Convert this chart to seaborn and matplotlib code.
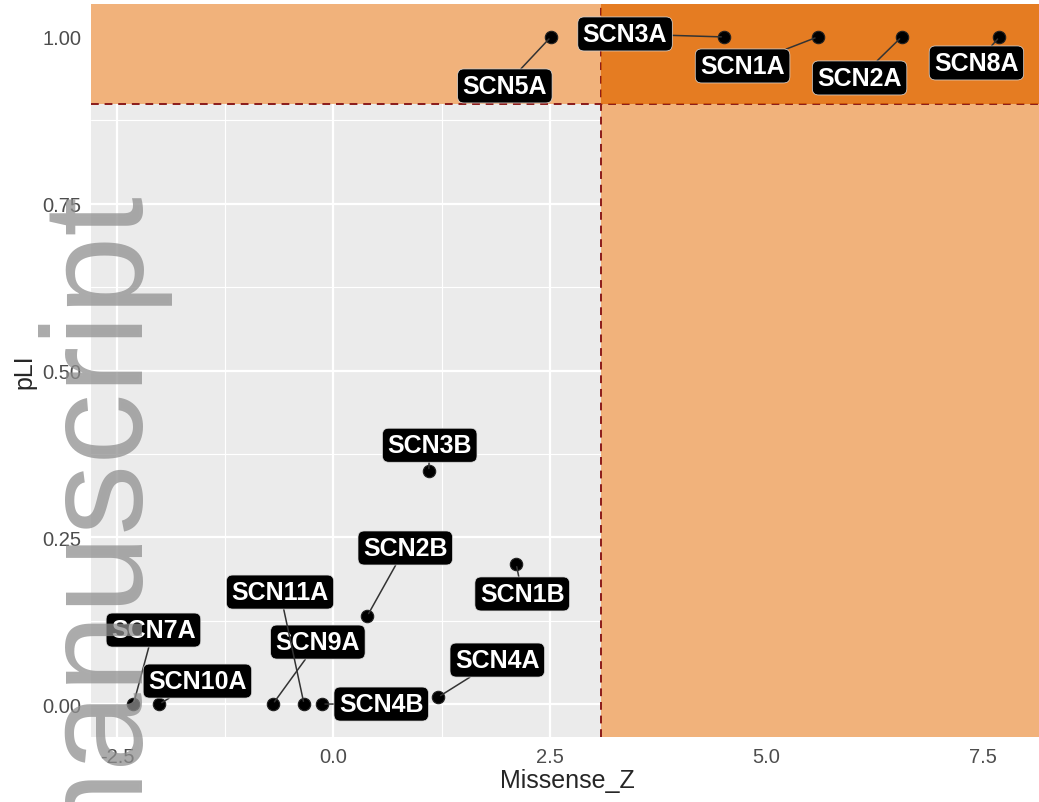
import pandas as pd
import matplotlib.pyplot as plt
from matplotlib.patches import Rectangle
import seaborn as sns

genes = ["SCN5A", "SCN3A", "SCN1A", "SCN2A", "SCN8A", "SCN3B", "SCN1B",
         "SCN2B", "SCN4A", "SCN7A", "SCN10A", "SCN9A", "SCN11A", "SCN4B"]
missense_z = [2.51, 4.51, 5.59, 6.56, 7.69, 1.10, 2.11,
              0.39, 1.21, -2.31, -2.01, -0.70, -0.34, -0.13]
pli = [1.0, 1.0, 1.0, 1.0, 1.0, 0.349, 0.21,
       0.132, 0.0105, 0.0, 0.0, 0.0, 0.0, 0.0]

# where each label box sits, relative to its point (pixels)
label_dx = [-46, -99, -75, -42, -23, 1, 6, 38, 59, 20, 38, 45, -24, 59]
label_dy = [-49, 3, -29, -41, -26, 26, -30, 68, 37, 74, 23, 62, 112, 0]

z_cut = 3.09
pli_cut = 0.9
x_ticks = [-2.5, 0.0, 2.5, 5.0, 7.5]
y_ticks = [0.00, 0.25, 0.50, 0.75, 1.00]
x_minor = [-1.25, 1.25, 3.75, 6.25]
y_minor = [0.125, 0.375, 0.625, 0.875]

df = pd.DataFrame({"gene": genes, "Missense_Z": missense_z, "pLI": pli})

sns.set_style("darkgrid", {"axes.facecolor": "#EBEBEB", "grid.color": "white"})
plt.rcParams["font.family"] = ["Liberation Sans", "DejaVu Sans"]

W, H = 1039, 803
fig = plt.figure(figsize=(W / 100, H / 100), dpi=100)
xlo, xhi = -2.8, 8.2
ylo, yhi = -0.05, 1.05
left_px, right_px = 91, 91 + 11 * 86.6
top_px, bot_px = 4.6, 738.4
ax = fig.add_axes([left_px / W, 1 - bot_px / H, (right_px - left_px) / W, (bot_px - top_px) / H])

light = "#F1B27B"
ax.add_patch(Rectangle((xlo, pli_cut), xhi - xlo, yhi - pli_cut, color=light, lw=0, zorder=0.6))
ax.add_patch(Rectangle((z_cut, ylo), xhi - z_cut, yhi - ylo, color=light, lw=0, zorder=0.6))

ax.axhline(pli_cut, color="#8B1A1A", lw=1.4, ls=(0, (4, 3)), zorder=1)
ax.axvline(z_cut, color="#8B1A1A", lw=1.4, ls=(0, (4, 3)), zorder=1)

ax.add_patch(Rectangle((z_cut, pli_cut), xhi - z_cut, yhi - pli_cut,
                       color="#E16800", alpha=0.72, lw=0, zorder=1.2))

sns.scatterplot(data=df, x="Missense_Z", y="pLI", color="black", s=80,
                edgecolor="#222222", linewidth=0.8, zorder=3, ax=ax)

for g, x, y, dx, dy in zip(genes, missense_z, pli, label_dx, label_dy):
    ax.annotate(g, (x, y), xytext=(dx, dy), textcoords="offset pixels",
                ha="center", va="center", color="white", fontsize=18,
                fontweight="bold", zorder=4,
                bbox=dict(boxstyle="round,pad=0.2,rounding_size=0.25",
                          fc="black", ec="#dddddd", lw=0.5),
                arrowprops=dict(arrowstyle="-", color="#333333", lw=1.1,
                                shrinkA=0, shrinkB=2))

ax.set_xlim(xlo, xhi)
ax.set_ylim(ylo, yhi)
ax.set_xticks(x_ticks)
ax.set_xticklabels([f"{v:.1f}" for v in x_ticks])
ax.set_yticks(y_ticks)
ax.set_yticklabels([f"{v:.2f}" for v in y_ticks])
ax.set_xticks(x_minor, minor=True)
ax.set_yticks(y_minor, minor=True)
ax.grid(which="major", color="white", lw=1.6, zorder=0.1)
ax.grid(which="minor", color="white", lw=0.8, zorder=0.1)
ax.set_axisbelow(True)
for s in ax.spines.values():
    s.set_visible(False)
ax.tick_params(which="major", length=4, width=1.1, color="#333333",
               labelcolor="#4D4D4D", labelsize=14.5, pad=3)
ax.tick_params(which="minor", length=0)
ax.set_xlabel("Missense_Z", fontsize=18, labelpad=1)
ax.set_ylabel("pLI", fontsize=18, labelpad=4)

fig.text(134 / W, 1 - 186 / H, "manuscript", rotation=90, rotation_mode="anchor",
         ha="right", va="baseline", fontsize=102, color="#8f8f8f", alpha=0.75,
         zorder=10)

fig.savefig("out.png", dpi=100)
